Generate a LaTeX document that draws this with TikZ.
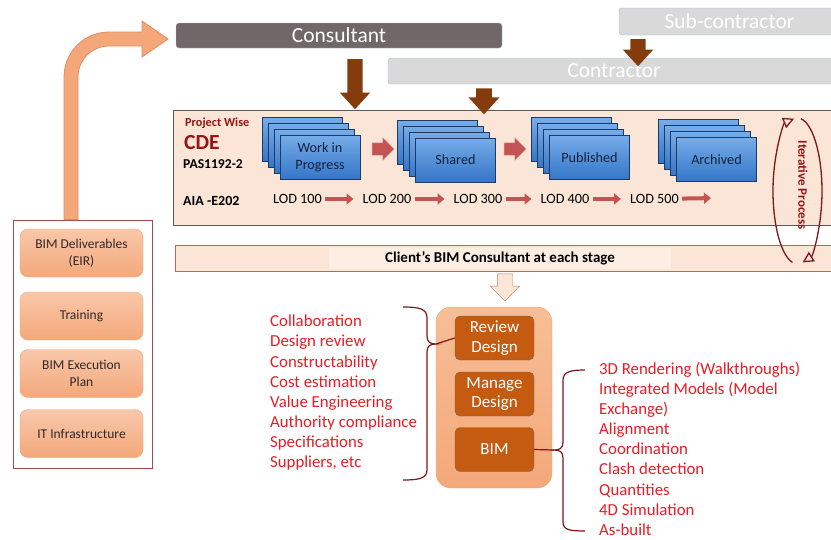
\documentclass[tikz,border=0pt]{standalone}
\usepackage{fontspec}
\setmainfont{Carlito}
\usetikzlibrary{positioning,shapes.arrows,arrows.meta,calc}

\definecolor{consgray}{RGB}{112,104,104}
\definecolor{barlight}{RGB}{217,217,217}
\definecolor{barline}{RGB}{160,185,215}
\definecolor{arrowbrown}{RGB}{132,60,12}
\definecolor{cdefill}{RGB}{251,229,214}
\definecolor{cdeline}{RGB}{90,90,90}
\definecolor{blueTop}{RGB}{118,172,232}
\definecolor{blueBot}{RGB}{52,118,200}
\definecolor{blueLine}{RGB}{30,58,98}
\definecolor{darkredtxt}{RGB}{150,20,20}
\definecolor{lodred}{RGB}{196,84,84}
\definecolor{clientline}{RGB}{200,95,95}
\definecolor{orangeLight}{RGB}{248,200,170}
\definecolor{orangeMid}{RGB}{244,168,122}
\definecolor{orangeLine}{RGB}{240,165,120}
\definecolor{orangeDark}{RGB}{197,90,17}
\definecolor{braceRed}{RGB}{130,22,22}
\definecolor{listRed}{RGB}{232,28,36}

\begin{document}
\begin{tikzpicture}[x=1pt,y=-1pt,
    bar/.style={rectangle,rounded corners=3pt,draw=barline,text=white,
                font=\fontsize{21.5}{24}\selectfont,inner sep=0pt},
    bigdown/.style={single arrow,shape border rotate=270,fill=arrowbrown,draw=none,
                    inner sep=7.5pt,minimum width=30pt,single arrow head extend=7.5pt,
                    single arrow tip angle=85},
    redright/.style={single arrow,fill=lodred,draw=lodred!60,inner sep=6pt,
                     minimum width=22pt,minimum height=22pt,single arrow head extend=5pt},
    docbox/.style={rectangle,draw=blueLine,line width=.8pt,top color=blueTop,
                   bottom color=blueBot,minimum width=80pt,minimum height=44pt,
                   align=center,text={rgb,255:red,22;green,34;blue,60},
                   font=\fontsize{14.2}{17}\selectfont},
    lodtxt/.style={font=\fontsize{14.2}{16}\selectfont,inner sep=2pt},
    lodarr/.style={draw=lodred,line width=4pt,-{Triangle[length=7pt,width=11pt]},
                   shorten >=7pt,shorten <=1pt},
    iterarr/.style={draw=braceRed,line width=1.3pt,
                    -{Triangle[length=11pt,width=11pt,fill=cdefill]}},
    sidebox/.style={rectangle,rounded corners=8pt,draw=orangeLine,top color=orangeLight,
                    bottom color=orangeMid,minimum width=123pt,minimum height=48pt,
                    align=center,text={rgb,255:red,50;green,40;blue,40},
                    font=\fontsize{13.5}{17}\selectfont},
    taskbox/.style={rectangle,rounded corners=5pt,draw={rgb,255:red,125;green,100;blue,90},
                    fill=orangeDark,minimum width=79pt,minimum height=44pt,align=center,
                    text=white,font=\fontsize{17}{19.5}\selectfont},
    listtxt/.style={align=left,text=listRed,font=\fontsize{16.8}{20.1}\selectfont,
                    inner sep=0pt},
    bracket/.style={draw=braceRed,line width=1.2pt}]
  \useasboundingbox (0,0) rectangle (831,539);

  % Top bars
  \node[bar,fill=consgray,minimum width=326pt,minimum height=25pt] (consultant) at (339,35.5) {Consultant};
  \node[bar,fill=barlight,minimum width=221pt,minimum height=27pt] (sub) at (729.5,21.5) {Sub-contractor};
  \node[bar,fill=barlight,minimum width=452pt,minimum height=26pt] (contractor) at (614,71) {Contractor};

  % CDE box
  \node[rectangle,draw=cdeline,fill=cdefill,line width=.8pt,anchor=north west,
        minimum width=680pt,minimum height=115pt] (cde) at (173,110) {};

  % Brown arrows
  \node[bigdown,minimum height=50pt] (consarrow) at (355,80) {};
  \node[bigdown,minimum height=27pt] (subarrow) at (638,48.5) {};
  \node[bigdown,minimum height=26pt,minimum width=31pt] (contarrow) at (484,97) {};

  % CDE labels
  \node[anchor=west,inner sep=0pt,text=darkredtxt,font=\bfseries\fontsize{12.3}{14}\selectfont] (pwise) at (185,123) {Project Wise};
  \node[anchor=west,inner sep=0pt,text=darkredtxt,font=\bfseries\fontsize{21.5}{24}\selectfont] (cdelbl) at (184,143) {CDE};
  \node[anchor=west,inner sep=0pt,font=\bfseries\fontsize{13.6}{16}\selectfont] (pas) at (183,164) {PAS1192-2};
  \node[anchor=west,inner sep=0pt,font=\bfseries\fontsize{14}{16}\selectfont] (aia) at (183,201) {AIA -E202};

  % Stacked documents
  \foreach \name/\x/\y/\txt in {wip/320/157/{Work in\\Progress},shared/455.5/160/Shared,
                                pub/589.5/157.5/Published,arch/716.5/159.5/Archived}{
    \foreach \i in {3,2,1}
      \node[docbox] (\name-\i) at (\x-6*\i,\y-6*\i) {};
    \node[docbox] (\name) at (\x,\y) {\txt};
  }
  \node[redright] (wiparrow) at (380,149) {};
  \node[redright] (sharedarrow) at (512,149) {};

  % LOD row
  \node[lodtxt] (lod1) at (297.5,199) {LOD 100};
  \node[lodtxt] (lod2) at (387,199) {LOD 200};
  \node[lodtxt] (lod3) at (478,199) {LOD 300};
  \node[lodtxt] (lod4) at (565,199) {LOD 400};
  \node[lodtxt] (lod5) at (654.5,199) {LOD 500};
  \coordinate (lodend) at (718,198);
  \draw[lodarr] (lod1) -- (lod2);
  \draw[lodarr] (lod2) -- (lod3);
  \draw[lodarr] (lod3) -- (lod4);
  \draw[lodarr] (lod4) -- (lod5);
  \draw[lodarr] (lod5) -- (lodend);

  % Client bar
  \node[rectangle,draw=clientline,fill=cdefill,line width=.8pt,anchor=north west,
        minimum width=670pt,minimum height=26pt] (clientbar) at (175,245) {};
  \node[rectangle,fill={rgb,255:red,253;green,238;blue,228},minimum width=342pt,minimum height=21pt,
        inner sep=0pt,font=\bfseries\fontsize{15}{17}\selectfont] (client) at (500,258.5) {Client’s BIM Consultant at each stage};
  \node[single arrow,shape border rotate=270,fill=cdefill,draw={rgb,255:red,190;green,120;blue,100},
        inner sep=7.5pt,minimum width=29pt,minimum height=27pt,single arrow head extend=7pt] (downarrow) at (505,283.5) {};

  % Iterative process
  \coordinate (itc) at (797.5,191);
  \draw[iterarr] ([shift={(258:24.5pt and 73pt)}]itc) arc[start angle=258,end angle=98,x radius=24.5pt,y radius=73pt];
  \draw[iterarr] ([shift={(82:24.5pt and 73pt)}]itc) arc[start angle=82,end angle=-78,x radius=24.5pt,y radius=73pt];
  \node[rotate=-90,inner sep=0pt,text=darkredtxt,font=\bfseries\fontsize{13}{15}\selectfont] (iter) at (803,185) {Iterative Process};

  % Tasks
  \node[rectangle,rounded corners=15pt,draw=orangeLine,top color={rgb,255:red,247;green,190;blue,150},
        bottom color=orangeMid,minimum width=116pt,minimum height=181pt] (tasks) at (494,397.5) {};
  \node[taskbox] (review) at (494.5,338) {Review\\Design};
  \node[taskbox] (manage) at (494.5,394) {Manage\\Design};
  \node[taskbox] (bim) at (494.5,449.5) {BIM};

  % Braces
  \coordinate (ltip) at (436,344);
  \draw[bracket] (403,307) .. controls (420,307) and (427,309) .. (427,318) -- (427,336)
        .. controls (427,342) and (430,344) .. (ltip)
        .. controls (430,344) and (427,346) .. (427,352) -- (427,470)
        .. controls (427,478) and (420,480) .. (403,480);
  \draw[bracket] (ltip) -- (review.west);
  \coordinate (rtip) at (554,450);
  \draw[bracket] (585,370) .. controls (570,370) and (563,372) .. (563,380) -- (563,442)
        .. controls (563,448) and (560,450) .. (rtip)
        .. controls (560,450) and (563,452) .. (563,458) -- (563,522)
        .. controls (563,530) and (570,531) .. (585,531);
  \draw[bracket] (bim.east) -- (rtip);

  % Lists
  \node[listtxt,anchor=north west] (reviewlist) at (270,315) {Collaboration\\Design review\\Constructability\\Cost estimation\\Value Engineering\\Authority compliance\\Specifications\\Suppliers, etc};
  \node[listtxt,anchor=north west] (bimlist) at (599,362) {3D Rendering (Walkthroughs)\\Integrated Models (Model\\Exchange)\\Alignment\\Coordination\\Clash detection\\Quantities\\4D Simulation\\As-built};

  % Left panel
  \node[rectangle,draw=clientline!80!black,fill=white,line width=.8pt,minimum width=139pt,
        minimum height=248pt] (panel) at (82.5,344) {};
  \node[sidebox] (eir) at (81.5,253) {BIM Deliverables\\(EIR)};
  \node[sidebox] (training) at (81.5,316) {Training};
  \node[sidebox] (bep) at (81.5,373.5) {BIM Execution\\Plan};
  \node[sidebox] (it) at (81.5,433.5) {IT Infrastructure};

  % Curved arrow to consultant
  \draw[draw={rgb,255:red,225;green,140;blue,95},fill=orangeMid,line width=.8pt]
    (panel.north -| 64,0) -- (64,77) arc[start angle=180,end angle=90,radius=45pt]
    -- (142,32) -- (142,21) -- (168,39) -- (142,57) -- (142,46) -- (109,46)
    arc[start angle=90,end angle=180,radius=31pt] -- (panel.north -| 78,0) -- cycle;
\end{tikzpicture}
\end{document}
